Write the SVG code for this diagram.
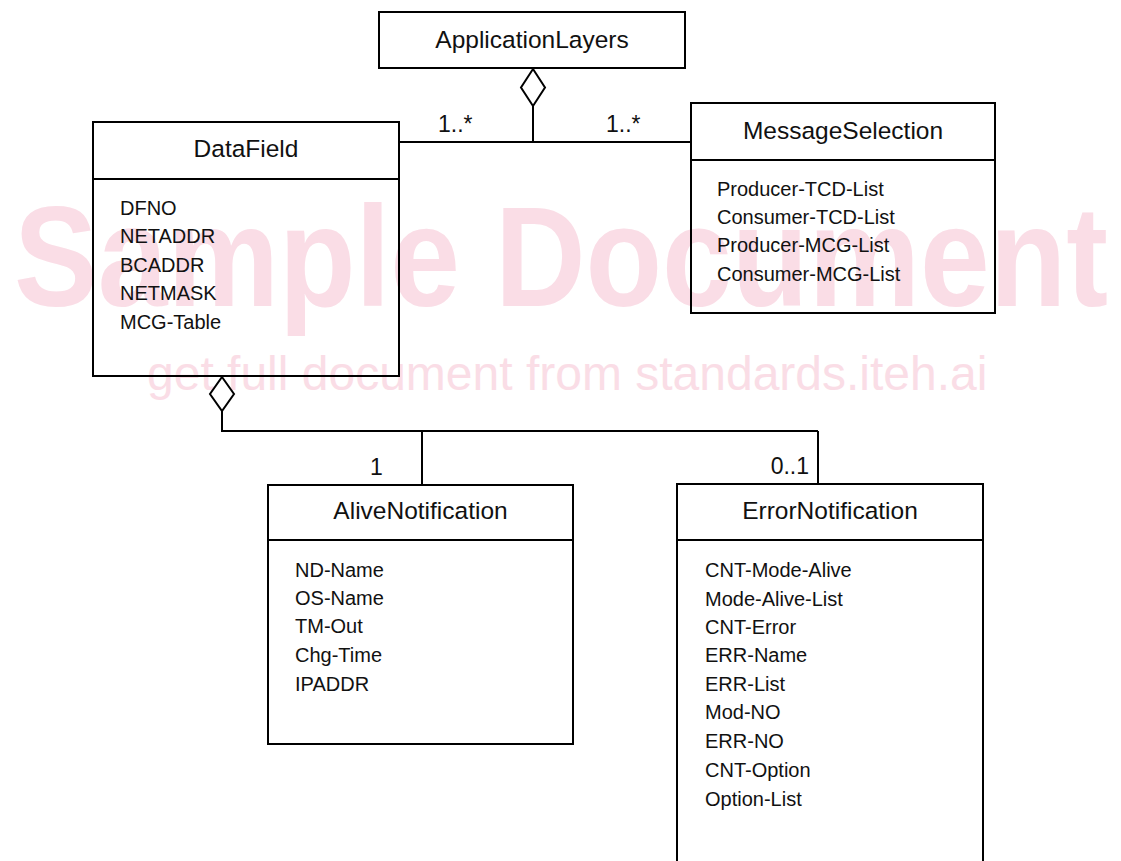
<svg xmlns="http://www.w3.org/2000/svg" width="1121" height="861" viewBox="0 0 1121 861">
  <style>
    .box { fill: none; stroke: #000000; stroke-width: 2; }
    .rule { stroke: #000000; stroke-width: 2; }
    .wire { fill: none; stroke: #000000; stroke-width: 2; }
    .diamond { fill: #ffffff; stroke: #000000; stroke-width: 2; stroke-linejoin: miter; }
    .title { font-family: "Liberation Sans", Arial, sans-serif; font-size: 24.5px; fill: #111111; text-anchor: middle; }
    .attr { font-family: "Liberation Sans", Arial, sans-serif; font-size: 20px; fill: #111111; }
    .mult { font-family: "Liberation Sans", Arial, sans-serif; font-size: 23px; fill: #111111; }
    .wm1 { font-family: "Liberation Sans", Arial, sans-serif; font-weight: bold; font-size: 143px; fill: #fadde6; }
    .wm2 { font-family: "Liberation Sans", Arial, sans-serif; font-size: 48px; fill: #fadde6; }
  </style>

  <rect x="0" y="0" width="1121" height="861" fill="#ffffff"/>

  <!-- background stamp -->
  <g id="stamp">
    <text class="wm1" x="14" y="306" textLength="1094" lengthAdjust="spacingAndGlyphs">Sample Document</text>
    <text class="wm2" x="147" y="390">get full document from standards.iteh.ai</text>
  </g>

  <!-- associations and aggregations -->
  <g id="connectors">
    <path class="wire" d="M533 106 V142 M399 142 H691"/>
    <polygon class="diamond" points="533,69 545,87.5 533,106 521,87.5"/>
    <path class="wire" d="M222 411 V431 H818 M422 431 V485 M818 431 V485"/>
    <polygon class="diamond" points="222,377 234,394 222,411 210,394"/>
    <text class="mult" x="438" y="132">1..*</text>
    <text class="mult" x="606" y="132">1..*</text>
    <text class="mult" x="370" y="475">1</text>
    <text class="mult" x="809" y="474" text-anchor="end">0..1</text>
  </g>

  <g id="ApplicationLayers">
    <rect class="box" x="379" y="12" width="306" height="56"/>
    <text class="title" x="532" y="48">ApplicationLayers</text>
  </g>

  <g id="DataField">
    <rect class="box" x="93" y="122" width="306" height="254"/>
    <line class="rule" x1="93" y1="179" x2="399" y2="179"/>
    <text class="title" x="246" y="157">DataField</text>
    <text class="attr" x="120" y="215">DFNO</text>
    <text class="attr" x="120" y="243">NETADDR</text>
    <text class="attr" x="120" y="272">BCADDR</text>
    <text class="attr" x="120" y="300">NETMASK</text>
    <text class="attr" x="120" y="329">MCG-Table</text>
  </g>

  <g id="MessageSelection">
    <rect class="box" x="691" y="103" width="304" height="210"/>
    <line class="rule" x1="691" y1="160" x2="995" y2="160"/>
    <text class="title" x="843" y="139">MessageSelection</text>
    <text class="attr" x="717" y="196">Producer-TCD-List</text>
    <text class="attr" x="717" y="224">Consumer-TCD-List</text>
    <text class="attr" x="717" y="252">Producer-MCG-List</text>
    <text class="attr" x="717" y="281">Consumer-MCG-List</text>
  </g>

  <g id="AliveNotification">
    <rect class="box" x="268" y="485" width="305" height="259"/>
    <line class="rule" x1="268" y1="540" x2="573" y2="540"/>
    <text class="title" x="420.5" y="519">AliveNotification</text>
    <text class="attr" x="295" y="577">ND-Name</text>
    <text class="attr" x="295" y="605">OS-Name</text>
    <text class="attr" x="295" y="633">TM-Out</text>
    <text class="attr" x="295" y="662">Chg-Time</text>
    <text class="attr" x="295" y="691">IPADDR</text>
  </g>

  <g id="ErrorNotification">
    <rect class="box" x="677" y="484" width="306" height="400"/>
    <line class="rule" x1="677" y1="540" x2="983" y2="540"/>
    <text class="title" x="830" y="519">ErrorNotification</text>
    <text class="attr" x="705" y="577">CNT-Mode-Alive</text>
    <text class="attr" x="705" y="606">Mode-Alive-List</text>
    <text class="attr" x="705" y="634">CNT-Error</text>
    <text class="attr" x="705" y="662">ERR-Name</text>
    <text class="attr" x="705" y="691">ERR-List</text>
    <text class="attr" x="705" y="719">Mod-NO</text>
    <text class="attr" x="705" y="748">ERR-NO</text>
    <text class="attr" x="705" y="777">CNT-Option</text>
    <text class="attr" x="705" y="806">Option-List</text>
  </g>
</svg>
